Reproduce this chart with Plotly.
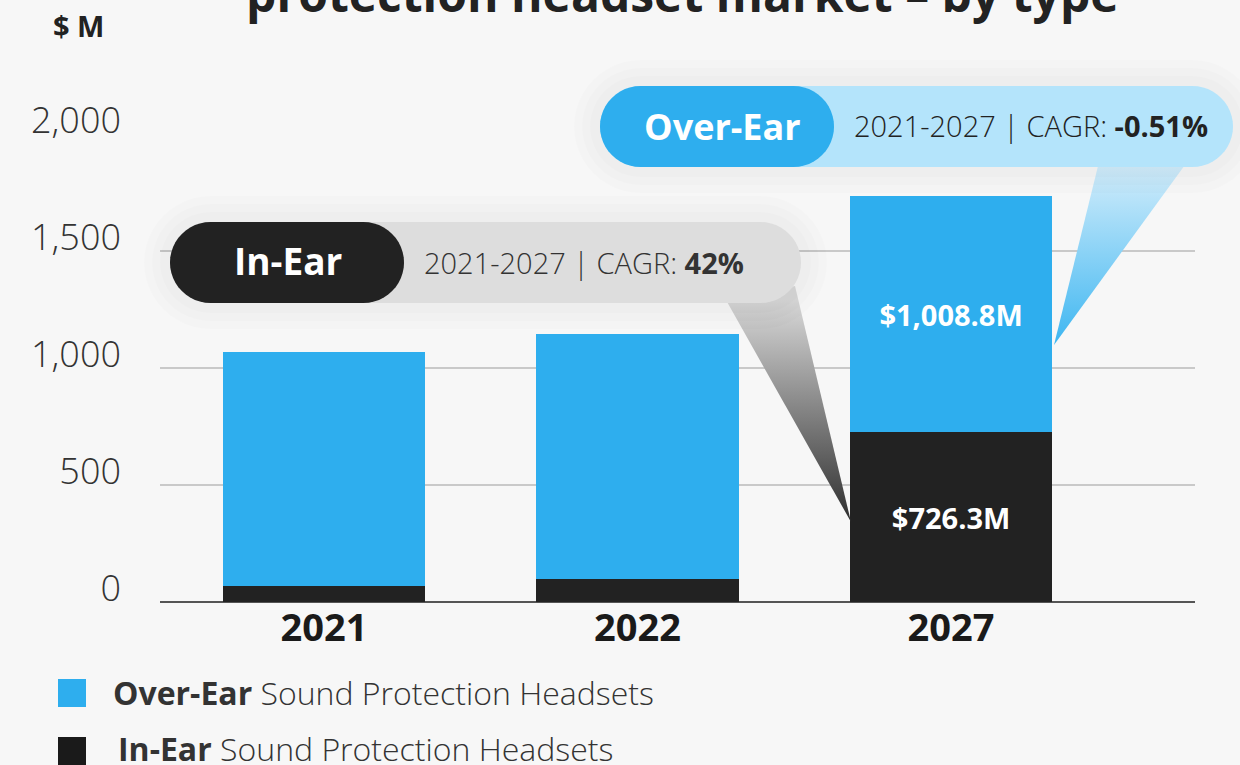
import math
import plotly.graph_objects as go

# ---------------- data ----------------
years = ["2021", "2022", "2027"]
over_ear = [1002, 1047, 1008.8]
in_ear = [68, 98, 726.3]
label_year = "2027"
y_ticks = [0, 500, 1000, 1500, 2000]
y_tick_text = ["0", "500", "1,000", "1,500", "2,000"]

series_names = ["Over-Ear", "In-Ear"]
cagr_text = {"In-Ear": "42%", "Over-Ear": "-0.51%"}

BLUE = "#2eaeee"
BLACK = "#222222"
BG = "#f7f7f7"
FONT = "Open Sans"
W, H = 1240, 765


def bar_text(vals):
    return [f"${v:,.1f}M" if y == label_year else "" for y, v in zip(years, vals)]


fig = go.Figure()

fig.add_trace(go.Bar(
    x=years, y=in_ear, name="In-Ear", marker=dict(color=BLACK, line=dict(width=0)),
    text=bar_text(in_ear), textposition="inside", insidetextanchor="middle",
    textangle=0, textfont=dict(family=FONT, size=29, color="white", weight="bold"),
    width=0.645, hoverinfo="skip"))
fig.add_trace(go.Bar(
    x=years, y=over_ear, name="Over-Ear", marker=dict(color=BLUE, line=dict(width=0)),
    text=bar_text(over_ear), textposition="inside", insidetextanchor="middle",
    textangle=0, textfont=dict(family=FONT, size=29, color="white", weight="bold"),
    width=0.645, hoverinfo="skip"))

# ---------------- decorative pointers (pixel space overlay) ----------------
fig.add_trace(go.Scatter(
    x=[726, 795, 851, 726], y=[300, 286, 522, 300], xaxis="x2", yaxis="y2",
    mode="lines", line=dict(width=0), fill="toself",
    fillgradient=dict(type="vertical", start=300, stop=522,
                      colorscale=[[0, "#d9d9d9"], [1, "#2e2e2e"]]),
    hoverinfo="skip", showlegend=False))
fig.add_trace(go.Scatter(
    x=[1098, 1190, 1054, 1098], y=[166, 158, 345, 166], xaxis="x2", yaxis="y2",
    mode="lines", line=dict(width=0), fill="toself",
    fillgradient=dict(type="vertical", start=166, stop=345,
                      colorscale=[[0, "#d3edfb"], [1, "#3db6f1"]]),
    hoverinfo="skip", showlegend=False))


def pill(x0, y0, x1, y1, n=24):
    r = (y1 - y0) / 2.0
    yc = (y0 + y1) / 2.0
    pts = []
    for i in range(n + 1):
        a = -math.pi / 2 + math.pi * i / n
        pts.append((x1 - r + r * math.cos(a), yc + r * math.sin(a)))
    for i in range(n + 1):
        a = math.pi / 2 + math.pi * i / n
        pts.append((x0 + r + r * math.cos(a), yc + r * math.sin(a)))
    return "M " + " L ".join(f"{px:.1f},{py:.1f}" for px, py in pts) + " Z"


shapes = []


def add_pill(x0, y0, x1, y1, color, halo=False):
    if halo:
        for g in (26, 18, 10):
            shapes.append(dict(type="path", xref="x2", yref="y2", layer="above",
                               path=pill(x0 - g, y0 - g, x1 + g, y1 + g),
                               fillcolor="rgba(0,0,0,0.013)", line=dict(width=0)))
    shapes.append(dict(type="path", xref="x2", yref="y2", layer="above",
                       path=pill(x0, y0, x1, y1), fillcolor=color, line=dict(width=0)))


add_pill(170, 222, 801, 303, "#dddddd", halo=True)
add_pill(170, 222, 404, 303, BLACK)
add_pill(600, 86, 1233, 167, "#b4e4fb", halo=True)
add_pill(600, 86, 834, 167, BLUE)

# legend squares
shapes.append(dict(type="rect", xref="x2", yref="y2", x0=58, x1=86, y0=679, y1=707,
                   fillcolor=BLUE, line=dict(width=0)))
shapes.append(dict(type="rect", xref="x2", yref="y2", x0=58, x1=86, y0=737, y1=765,
                   fillcolor="#1a1a1a", line=dict(width=0)))

ann = []


def txt(x, y, text, size, color, anchor="center", weight=300, yanchor="middle"):
    ann.append(dict(x=x, y=y, xref="x2", yref="y2", text=text, showarrow=False,
                    xanchor=anchor, yanchor=yanchor,
                    font=dict(family=FONT, size=size, color=color, weight=weight)))


txt(682, 28, "protection headset market – by type", 48, "#222222", weight="bold",
    yanchor="bottom")
txt(78, 25, "$ M", 29, "#222222", weight="bold")
txt(288, 260, "In-Ear", 37, "white", weight="bold")
txt(422, 262, f"2021-2027 | CAGR: <b>{cagr_text['In-Ear']}</b>", 29, "#333333", "left")
txt(722, 126, "Over-Ear", 36, "white", weight="bold")
txt(852, 125, f"2021-2027 | CAGR: <b>{cagr_text['Over-Ear']}</b>", 29, "#222222", "left")
txt(111, 692, "<b>Over-Ear</b> Sound Protection Headsets", 32, "#333333", "left")
txt(116, 748, "<b>In-Ear</b> Sound Protection Headsets", 32, "#333333", "left")

fig.update_layout(
    width=W, height=H, autosize=False,
    margin=dict(l=0, r=0, t=0, b=0, pad=0),
    paper_bgcolor=BG, plot_bgcolor="rgba(0,0,0,0)",
    barmode="stack", showlegend=False,
    xaxis=dict(domain=[160 / W, 1195 / W], range=[-0.523, 2.778], anchor="y",
               type="category", showgrid=False, zeroline=False, showline=False,
               ticks="", tickfont=dict(family=FONT, size=38, color="#1a1a1a", weight="bold"),
               automargin=False, fixedrange=True),
    yaxis=dict(domain=[(H - 602) / H, (H - 134) / H], range=[0, 2000], anchor="x",
               tickvals=y_ticks, ticktext=y_tick_text, showgrid=True,
               gridcolor="#c9c9c9", gridwidth=1.5, zeroline=True,
               zerolinecolor="#555555", zerolinewidth=1.5, showline=False, ticks="",
               tickfont=dict(family=FONT, size=36, color="#333333", weight=300),
               ticklabelstandoff=38, ticklabelshift=-14, automargin=False, fixedrange=True),
    xaxis2=dict(domain=[0, 1], range=[0, W], anchor="y2", visible=False, fixedrange=True),
    yaxis2=dict(domain=[0, 1], range=[H, 0], anchor="x2", visible=False, fixedrange=True),
    shapes=shapes, annotations=ann,
)

fig.write_html("out.html")
